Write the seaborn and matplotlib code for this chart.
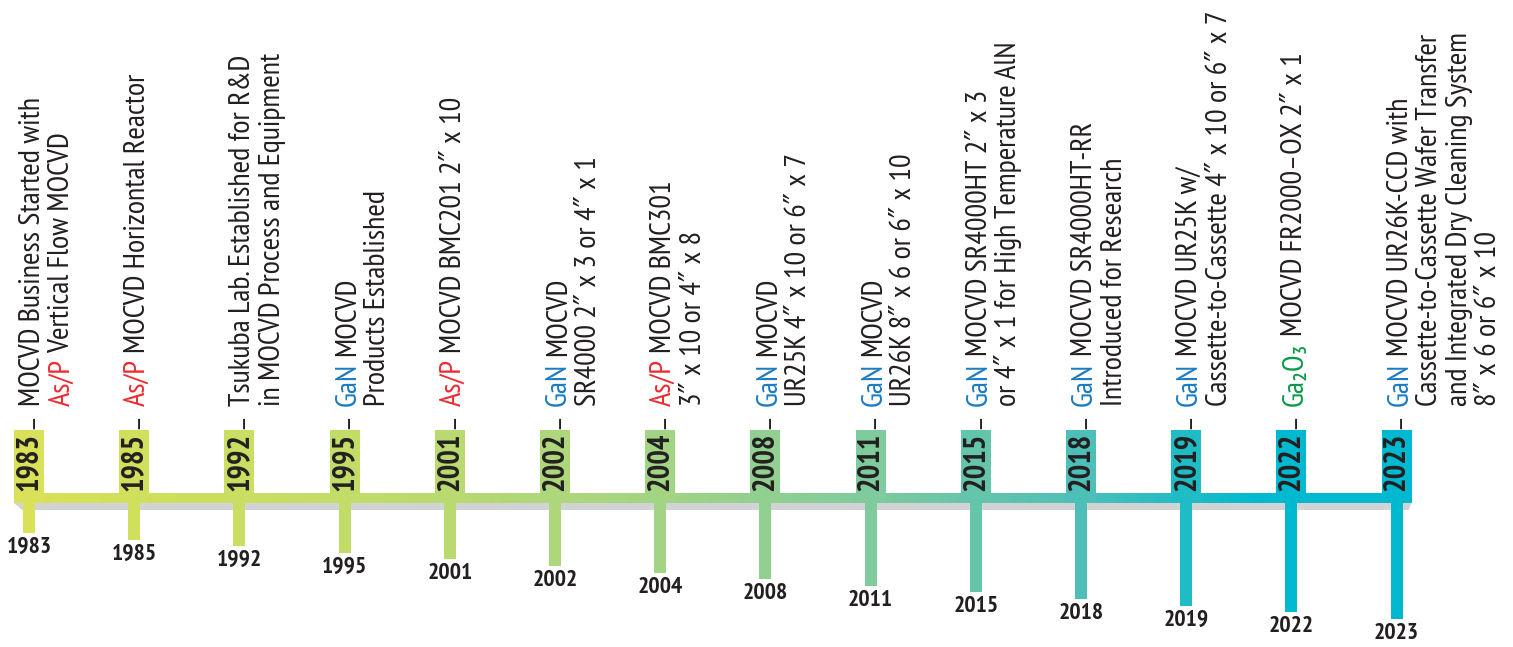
import numpy as np
import matplotlib
matplotlib.use('Agg')
import matplotlib.pyplot as plt
from matplotlib import font_manager
from matplotlib.colors import LinearSegmentedColormap
from matplotlib.patches import Polygon
import seaborn as sns

# Timeline data
years = ['1983', '1985', '1992', '1995', '2001', '2002', '2004',
         '2008', '2011', '2015', '2018', '2019', '2022', '2023']
tags = ['As/P', 'As/P', '', 'GaN', 'As/P', 'GaN', 'As/P',
        'GaN', 'GaN', 'GaN', 'GaN', 'GaN', 'Ga₂O₃', 'GaN']
tag_line = [1, 0, 0, 0, 0, 0, 0, 0, 0, 0, 0, 0, 0, 0]
tag_colors = {'As/P': '#ee2a2f', 'GaN': '#1a7bc4', 'Ga₂O₃': '#0a9a48'}
descriptions = [
    ['MOCVD Business Started with', 'Vertical Flow MOCVD'],
    ['MOCVD Horizontal Reactor'],
    ['Tsukuba Lab. Established for R&D', 'in MOCVD Process and Equipment'],
    ['MOCVD', 'Products Established'],
    ['MOCVD BMC201 2″ x 10'],
    ['MOCVD', 'SR4000 2″ x 3 or 4″ x 1'],
    ['MOCVD BMC301', '3″ x 10 or 4″ x 8'],
    ['MOCVD', 'UR25K 4″ x 10 or 6″ x 7'],
    ['MOCVD', 'UR26K 8″ x 6 or 6″ x 10'],
    ['MOCVD SR4000HT 2″ x 3', 'or 4″ x 1 for High Temperature AlN'],
    ['MOCVD SR4000HT-RR', 'Introduced for Research'],
    ['MOCVD UR25K w/', 'Cassette-to-Cassette 4″ x 10 or 6″ x 7'],
    ['MOCVD FR2000–OX 2″ x 1'],
    ['MOCVD UR26K-CCD with', 'Cassette-to-Cassette Wafer Transfer',
     'and Integrated Dry Cleaning System', '8″ x 6 or 6″ x 10'],
]

sns.set_theme(style='white')
names = {f.name for f in font_manager.fontManager.ttflist}
main_font = 'PT Sans Narrow' if 'PT Sans Narrow' in names else 'Roboto Condensed'
plt.rcParams['font.family'] = [main_font, 'DejaVu Sans']

TXT = '#231f20'
cmap = LinearSegmentedColormap.from_list('tl', [
    (0.0, '#d8e157'), (0.25, '#c0dc69'), (0.46, '#a3d483'), (0.615, '#7fcb9d'),
    (0.77, '#4dbfb8'), (0.9, '#00bad0'), (1.0, '#00b8d0')])

fig = plt.figure(figsize=(15.13, 6.47), dpi=100)
ax = fig.add_axes([0, 0, 1, 1])
step = 105.2            # pixels between events
px = 1 / step           # one pixel in index units
n = len(years)
x = np.arange(n)
colors = [cmap(i / (n - 1)) for i in x]

box_w = 30 * px
left, right = x[0] - box_w / 2, x[-1] + box_w / 2

# shadow under the main bar
ax.add_patch(Polygon([(left, 503), (left + 8 * px, 510), (right - 3 * px, 510), (right, 503)],
                     closed=True, color='#d1d3d4', lw=0, zorder=1))
# gradient bar
gx = np.linspace(left, right, 600)
ax.imshow(np.clip(gx / x[-1], 0, 1)[None, :], extent=[left, right, 503, 493],
          aspect='auto', cmap=cmap, vmin=0, vmax=1, zorder=2, interpolation='bilinear')
# year boxes and stems
ax.bar(x, 73, bottom=430, width=box_w, color=colors, lw=0, zorder=3)
stem_len = 30 + 6.6 * x
ax.bar(x, stem_len, bottom=503, width=12 * px, color=colors, lw=0, zorder=3)

renderer = fig.canvas.get_renderer()


def text_len(s, size):
    t = ax.text(0, 0, s, fontsize=size, rotation=90)
    w = t.get_window_extent(renderer).height
    t.remove()
    return w


fs = 21.8
for i in x:
    ax.text(i, 462, years[i], rotation=90, ha='center', va='center', fontsize=22,
            weight='bold', color=TXT, zorder=4)
    ax.text(i, 4 + 503 + stem_len[i], years[i], ha='center', va='top', fontsize=17,
            weight='bold', color=TXT)
    base = i + 11 * px
    ax.text(base, 421, '–', rotation=90, rotation_mode='anchor', ha='center',
            va='baseline', fontsize=fs, color=TXT)
    for k, line in enumerate(descriptions[i]):
        lx = base + 29.5 * k * px
        y0 = 406
        if tags[i] and tag_line[i] == k:
            ax.text(lx, y0, tags[i], rotation=90, rotation_mode='anchor', ha='left',
                    va='baseline', fontsize=fs, color=tag_colors[tags[i]])
            y0 = y0 - (text_len(tags[i] + ' ' + line, fs) - text_len(line, fs))
        ax.text(lx, y0, line, rotation=90, rotation_mode='anchor', ha='left',
                va='baseline', fontsize=fs, color=TXT)

ax.set_xlim(-29 * px, (1513 - 29) * px)
ax.set_ylim(647, 0)
ax.axis('off')
fig.savefig('out.png', dpi=100)
